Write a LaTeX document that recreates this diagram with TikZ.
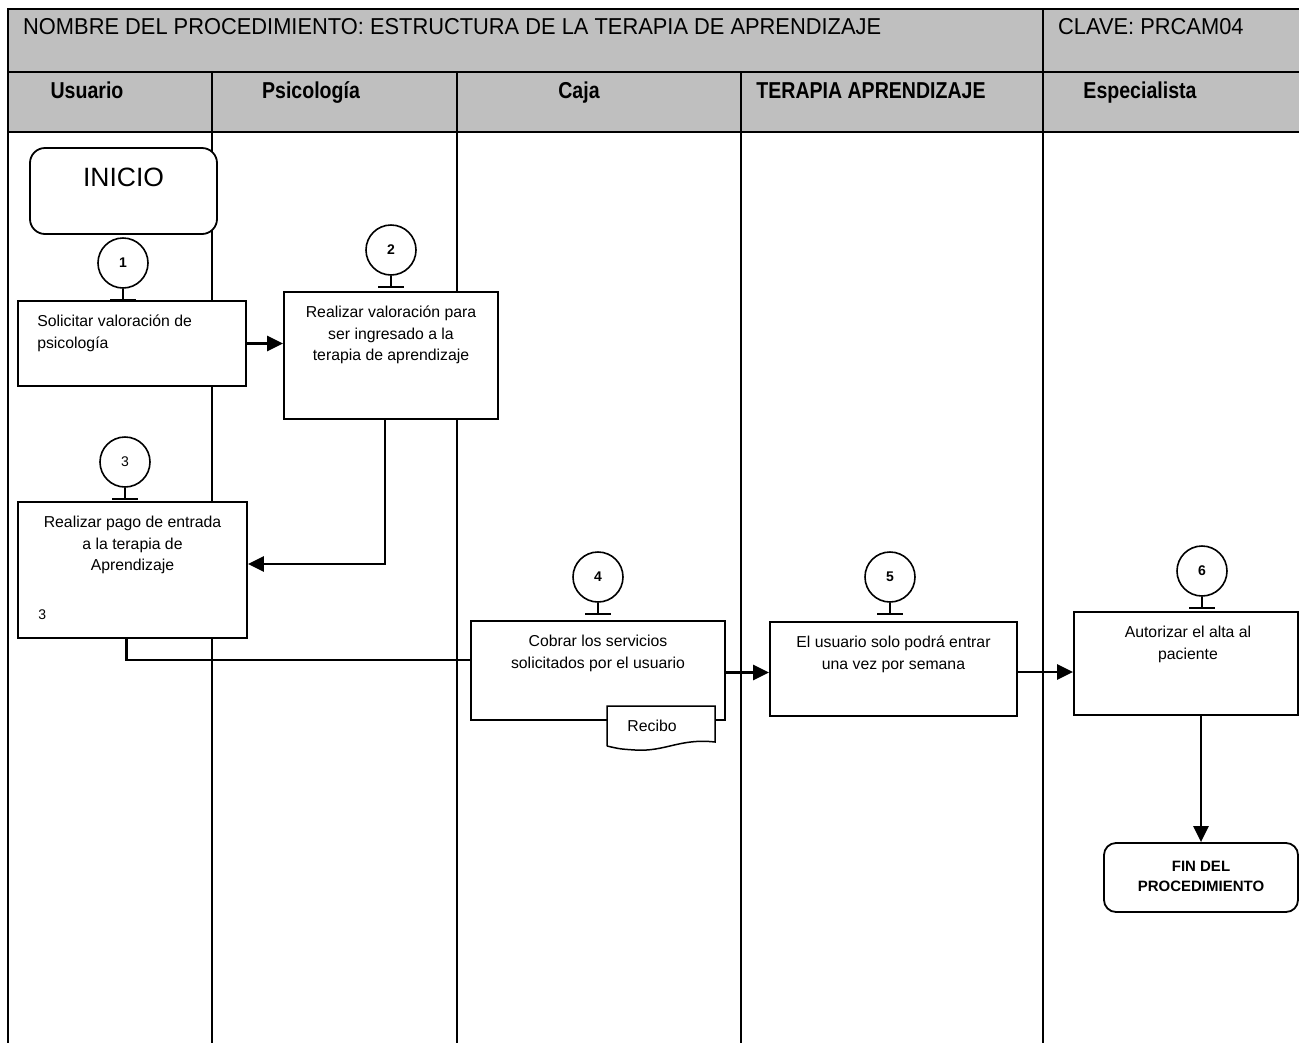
\documentclass[tikz,border=0pt]{standalone}
\usepackage{fontspec}
\setmainfont{Liberation Sans}
\newfontfamily\titlefont{Liberation Sans}[FakeStretch=0.95]
\newfontfamily\headfont{Liberation Sans}[FakeStretch=0.85]
\usetikzlibrary{arrows.meta}
\tikzset{>={Triangle[length=16pt,width=15pt]}}
\colorlet{hdrgray}{black!25}
\newcommand{\boxfont}{\fontsize{15.8}{21.5}\selectfont}
\tikzstyle{grid}=[line width=2pt]
\tikzstyle{task}=[draw,fill=white,line width=1.8pt,inner sep=0pt]
\tikzstyle{terminal}=[task,rounded corners=12pt]
\tikzstyle{boxtxt}=[anchor=north,align=center,inner sep=0pt,yshift=-15pt,font=\boxfont]
\tikzstyle{paso}=[draw,circle,line width=1.6pt,minimum size=50pt,inner sep=0pt,font=\fontsize{14}{14}\selectfont]
\tikzstyle{flecha}=[line width=2.5pt]
\tikzstyle{lanehead}=[anchor=base,font=\headfont\bfseries\fontsize{23}{23}\selectfont]

\begin{document}
\begin{tikzpicture}[x=1pt,y=-1pt]
  \clip (0,0) rectangle (1299,1042);
  % encabezado
  \fill[hdrgray] (8,9) rectangle (1310,132);
  \draw[grid] (1310,9) -- (8,9) -- (8,1050);
  \draw[grid] (8,72) -- (1310,72);
  \draw[grid] (8,132) -- (1310,132);
  \draw[grid] (1043,9) -- (1043,72);
  \foreach \x in {212,457,741,1043}
    \draw[grid] (\x,72) -- (\x,1050);
  \node[anchor=base west,inner sep=0pt,font=\titlefont\fontsize{23}{23}\selectfont] (titulo) at (23,34)
    {NOMBRE DEL PROCEDIMIENTO: ESTRUCTURA DE LA TERAPIA DE APRENDIZAJE};
  \node[anchor=base west,inner sep=0pt,font=\titlefont\fontsize{23}{23}\selectfont] (clave) at (1058,34)
    {CLAVE: PRCAM04};
  \foreach \x/\t [count=\i] in {87/Usuario,311/Psicología,579/Caja,871/TERAPIA APRENDIZAJE,1140/Especialista}
    \node[lanehead] (h\i) at (\x,98) {\t};

  % actividades
  \node[terminal,rounded corners=15pt,minimum width=187pt,minimum height=86pt,
    label={[boxtxt,yshift=-6pt,font=\fontsize{26.5}{26.5}\selectfont]north:INICIO}] (inicio) at (123.5,191) {};
  \node[task,minimum width=228pt,minimum height=85pt,
    label={[boxtxt,anchor=north west,align=left,xshift=20pt]north west:Solicitar valoración de\\psicología}] (b1) at (132,343.5) {};
  \node[task,minimum width=214pt,minimum height=127pt,
    label={[boxtxt]north:Realizar valoración para\\ser ingresado a la\\terapia de aprendizaje}] (b2) at (391,355.5) {};
  \node[task,minimum width=229pt,minimum height=136pt,
    label={[boxtxt]north:Realizar pago de entrada\\a la terapia de\\Aprendizaje},
    label={[anchor=base west,inner sep=0pt,xshift=21pt,yshift=19pt,font=\fontsize{14}{14}\selectfont]south west:3}] (b3) at (132.5,570) {};
  \node[task,minimum width=254pt,minimum height=99pt,
    label={[boxtxt]north:Cobrar los servicios\\solicitados por el usuario}] (b4) at (598,670.5) {};
  \node[task,minimum width=247pt,minimum height=94pt,
    label={[boxtxt]north:El usuario solo podrá entrar\\una vez por semana}] (b5) at (893.5,669) {};
  \node[task,minimum width=224pt,minimum height=103pt,
    label={[boxtxt,xshift=2pt]north:Autorizar el alta al\\paciente}] (b6) at (1186,663.5) {};
  \node[terminal,minimum width=194pt,minimum height=69pt,
    label={[boxtxt,yshift=-4pt,font=\bfseries\fontsize{15}{20}\selectfont]north:FIN DEL\\PROCEDIMIENTO}] (fin) at (1201,877.5) {};

  % recibo
  \draw[line width=1.5pt,fill=white] (607,746) -- (607,706) -- (715,706) -- (715,742)
    .. controls (680,738) and (665,752) .. (635,750) .. controls (620,749) .. (607,746);
  \node[font=\fontsize{15.8}{15.8}\selectfont] (recibo) at (652,726) {Recibo};

  % numeros de paso
  \foreach \n/\x/\y/\b in {1/123/263/1,2/391/250/1,3/125/462/0,4/598/577/1,5/890/577/1,6/1202/571/1}{
    \node[paso] (c\n) at (\x,\y) {\ifnum\b=1\bfseries\fi\n};
    \draw[line width=1.5pt] (c\n.south) -- ++(0,11) coordinate (t\n);
    \draw[line width=1.8pt] (t\n) ++(-13,0) -- ++(26,0);
  }

  % flujo
  \draw[flecha,->] (b1.east) -- (b1.east -| b2.west);
  \draw[flecha,->] ([xshift=-6pt]b2.south) |- ([yshift=6pt]b3.east);
  \draw[flecha] ([xshift=-6pt]b3.south) |- ([yshift=10.5pt]b4.west);
  \draw[flecha,->] ([yshift=-2pt]b4.east) -- ([yshift=-2pt]b4.east -| b5.west);
  \draw[flecha,->] ([yshift=-3pt]b5.east) -- ([yshift=-3pt]b5.east -| b6.west);
  \draw[flecha,->] (b6.south -| fin.north) -- (fin.north);
\end{tikzpicture}
\end{document}
